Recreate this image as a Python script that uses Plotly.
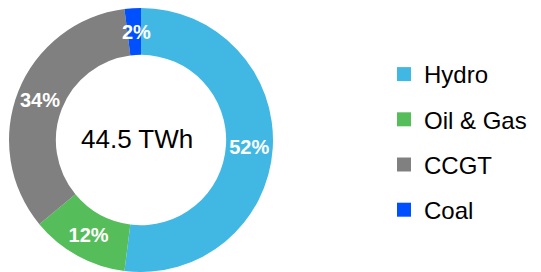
import math
import plotly.graph_objects as go

labels = ["Hydro", "Oil & Gas", "CCGT", "Coal"]
values = [52, 12, 34, 2]
colors = ["#41B8E4", "#56BD5B", "#808080", "#0050FF"]
center_text = "44.5 TWh"

W, H = 541, 272
FONT = "Liberation Sans, Arial, sans-serif"

# pie geometry (pixels)
CX, CY, R_OUT = 141, 140, 132
HOLE = 0.645

total = sum(values)
# small slices get their label as an annotation (so it is not shrunk)
small = [v / total < 0.05 for v in values]
texttemplate = ["" if s else "%{percent:.0%}" for s in small]

fig = go.Figure()
fig.add_trace(go.Pie(
    labels=labels, values=values, sort=False, direction="clockwise", rotation=0,
    hole=HOLE,
    marker=dict(colors=colors, line=dict(color="white", width=0)),
    texttemplate=texttemplate, textposition="inside", insidetextorientation="horizontal",
    textfont=dict(family=FONT, size=20, color="white", weight="bold"),
    domain=dict(x=[(CX - R_OUT) / W, (CX + R_OUT) / W], y=[0, 2 * R_OUT / H]),
    showlegend=False, hoverinfo="label+percent",
))

# annotations for small slices, placed at slice mid-angle, mid-ring
cum = 0
r_mid = R_OUT * (1 + HOLE) / 2
for v, s in zip(values, small):
    if s:
        frac = (cum + v / 2) / total
        ang = 2 * math.pi * frac
        px = CX + r_mid * math.sin(ang)
        py = CY - r_mid * math.cos(ang)
        fig.add_annotation(
            text=f"{round(100 * v / total)}%", x=(px + 2) / W, y=1 - py / H,
            xref="paper", yref="paper", showarrow=False,
            font=dict(family=FONT, size=20, color="white", weight="bold"),
            xanchor="center", yanchor="middle",
        )
    cum += v

for lab, col in zip(labels, colors):
    fig.add_trace(go.Scatter(
        x=[None], y=[None], mode="markers", name=lab, legendgroup=lab,
        marker=dict(symbol="square", size=14, color=col),
    ))

fig.add_annotation(
    text=center_text, x=136.5 / W, y=1 - 139 / H, xref="paper", yref="paper",
    showarrow=False, font=dict(family=FONT, size=26, color="black"),
    xanchor="center", yanchor="middle",
)

fig.update_layout(
    width=W, height=H,
    margin=dict(l=0, r=0, t=0, b=0),
    paper_bgcolor="white", plot_bgcolor="white",
    xaxis=dict(visible=False), yaxis=dict(visible=False),
    legend=dict(
        x=384 / W, y=1 - 52 / H, xanchor="left", yanchor="top",
        font=dict(family=FONT, size=24, color="black"),
        tracegroupgap=11, itemsizing="trace",
        bgcolor="rgba(0,0,0,0)",
    ),
)

fig.write_html(
    "out.html",
    config={"displayModeBar": False},
    post_script="document.body.style.margin='0';document.body.style.padding='0';",
)
